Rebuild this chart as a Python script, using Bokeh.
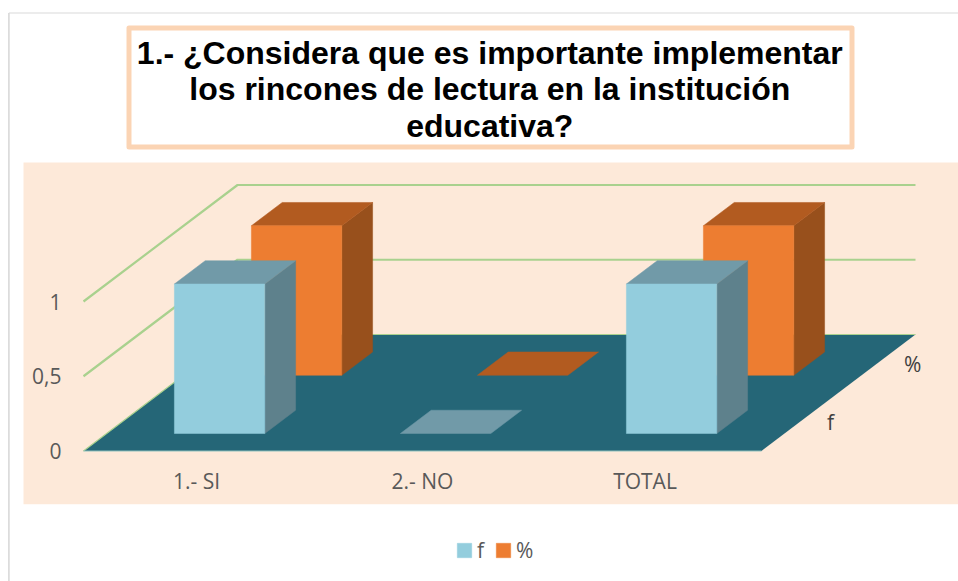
from bokeh.plotting import figure
from bokeh.models import Range1d, Legend, LegendItem
from bokeh.core.properties import value
from bokeh.embed import file_html
from bokeh.resources import INLINE

# ---- data ----
categories = ["1.- SI", "2.- NO", "TOTAL"]
f_values = [1, 0, 1]
pct_values = [1, 0, 1]
value_ticks = [0, 0.5, 1]
value_tick_labels = ["0", "0,5", "1"]
series_names = ["f", "%"]
title_lines = ["1.- ¿Considera que es importante implementar",
               "los rincones de lectura en la institución",
               "educativa?"]

# ---- layout / projection ----
W, H = 958, 581
X0, Y0 = 83.0, 450.5       # page pixel of category 0 / value 0
UX, UY = 226.0, 149.5      # page pixels per category / per value unit
DX, DY = 154.0 / UX, 116.5 / UY   # data shift of a full step in depth
BAR_W, BAR_D = 0.4, 0.2
ROW_D = [0.15, 0.65]

def sx(px): return (px - X0) / UX
def sy(py): return (Y0 - py) / UY
def X(u, d): return u + d * DX
def Y(v, d): return v + d * DY

FONT = "Open Sans"
GRID = "#A9D18E"
PANEL = "#FDE9D9"
FLOOR = "#256677"
FACE = {"f": ("#93CDDD", "#719AA8", "#5E818C"), "%": ("#ED7D31", "#B25B20", "#98501C")}

p = figure(width=W, height=H, output_backend="svg", toolbar_location=None,
           x_range=Range1d(sx(0), sx(W)), y_range=Range1d(sy(H), sy(0)),
           min_border=0, outline_line_color=None)
p.axis.visible = False
p.grid.visible = False
p.background_fill_color = "white"
p.border_fill_color = "white"

# outer chart frame
p.line([sx(8.4), sx(8.4)], [sy(581), sy(12.5)], line_color="#D9D9D9", line_width=1.6)
p.line([sx(8.4), sx(958)], [sy(12.5), sy(12.5)], line_color="#D9D9D9", line_width=1.2)

# panel
p.patch([sx(23), sx(958), sx(958), sx(23)], [sy(162), sy(162), sy(503.7), sy(503.7)],
        fill_color=PANEL, line_color=None)

# title box and title
p.patch([sx(128.5), sx(851.5), sx(851.5), sx(128.5)], [sy(27.5), sy(27.5), sy(146.5), sy(146.5)],
        fill_color="white", line_color="#FBD4B4", line_width=5, line_join="round")
title_y = [sy(52), sy(88.5), sy(125)]
p.text([sx(489.3)] * 3, title_y, text=title_lines, text_font=value("Liberation Sans"),
       text_font_style="bold", text_font_size="32px", text_align="center",
       text_baseline="middle", text_color="black")

# gridlines: side wall + back wall
n = len(categories)
for v in value_ticks[1:]:
    p.line([X(0, 0), X(0, 1), X(n, 1)], [Y(v, 0), Y(v, 1), Y(v, 1)],
           line_color=GRID, line_width=2.2)

# floor
p.patch([X(0, 0), X(n, 0), X(n, 1), X(0, 1)], [Y(0, 0), Y(0, 0), Y(0, 1), Y(0, 1)],
        fill_color=FLOOR, line_color=None)
p.line([X(0, 0), X(0, 1), X(n, 1)], [Y(0, 0), Y(0, 1), Y(0, 1)], line_color=GRID, line_width=1.2)
p.line([X(0, 0), X(n, 0)], [Y(0, 0), Y(0, 0)], line_color="#8FC1BE", line_width=1)

# bars, back row first
legend_renderers = {}
for name, vals, d0 in reversed(list(zip(series_names, [f_values, pct_values], ROW_D))):
    front, top, side = FACE[name]
    d1 = d0 + BAR_D
    for i, v in enumerate(vals):
        u0 = i + (1 - BAR_W) / 2
        u1 = u0 + BAR_W
        if v > 0:
            p.patch([X(u1, d0), X(u1, d1), X(u1, d1), X(u1, d0)],
                    [Y(0, d0), Y(0, d1), Y(v, d1), Y(v, d0)],
                    fill_color=side, line_color=side, line_width=0.5)
        p.patch([X(u0, d0), X(u1, d0), X(u1, d1), X(u0, d1)],
                [Y(v, d0), Y(v, d0), Y(v, d1), Y(v, d1)],
                fill_color=top, line_color=top, line_width=0.5)
        if v > 0:
            r = p.patch([X(u0, d0), X(u1, d0), X(u1, d0), X(u0, d0)],
                        [Y(0, d0), Y(0, d0), Y(v, d0), Y(v, d0)],
                        fill_color=front, line_color=front, line_width=0.5)
            legend_renderers.setdefault(name, r)

# value axis labels
p.text([sx(61)] * len(value_ticks), value_ticks, text=value_tick_labels, text_font=value(FONT),
       text_font_size="21px", text_align="right", text_baseline="middle", text_color="#595959")

# category labels
p.text([i + 0.5 for i in range(n)], [sy(480)] * n, text=categories, text_font=value(FONT),
       text_font_size="21px", text_align="center", text_baseline="middle", text_color="#595959",
       x_offset=[0, 0, -3.5])

# depth labels
p.text([X(n, d + BAR_D / 2) + sx(X0 + 27) for d in ROW_D],
       [Y(0, d + BAR_D / 2) for d in ROW_D],
       text=series_names, text_font=value(FONT), text_font_size="21px",
       text_align="left", text_baseline="middle", text_color="#404040")

# legend
legend = Legend(items=[LegendItem(label=s, renderers=[legend_renderers[s]]) for s in series_names],
                orientation="horizontal", location=(455, H - 564),
                background_fill_alpha=0, border_line_color=None, margin=0, padding=0,
                glyph_width=18, glyph_height=18, spacing=10, label_standoff=4, label_width=7,
                label_text_font=FONT, label_text_font_size="21px", label_text_color="#595959")
p.add_layout(legend)

open("out.html", "w").write(file_html(p, INLINE))
